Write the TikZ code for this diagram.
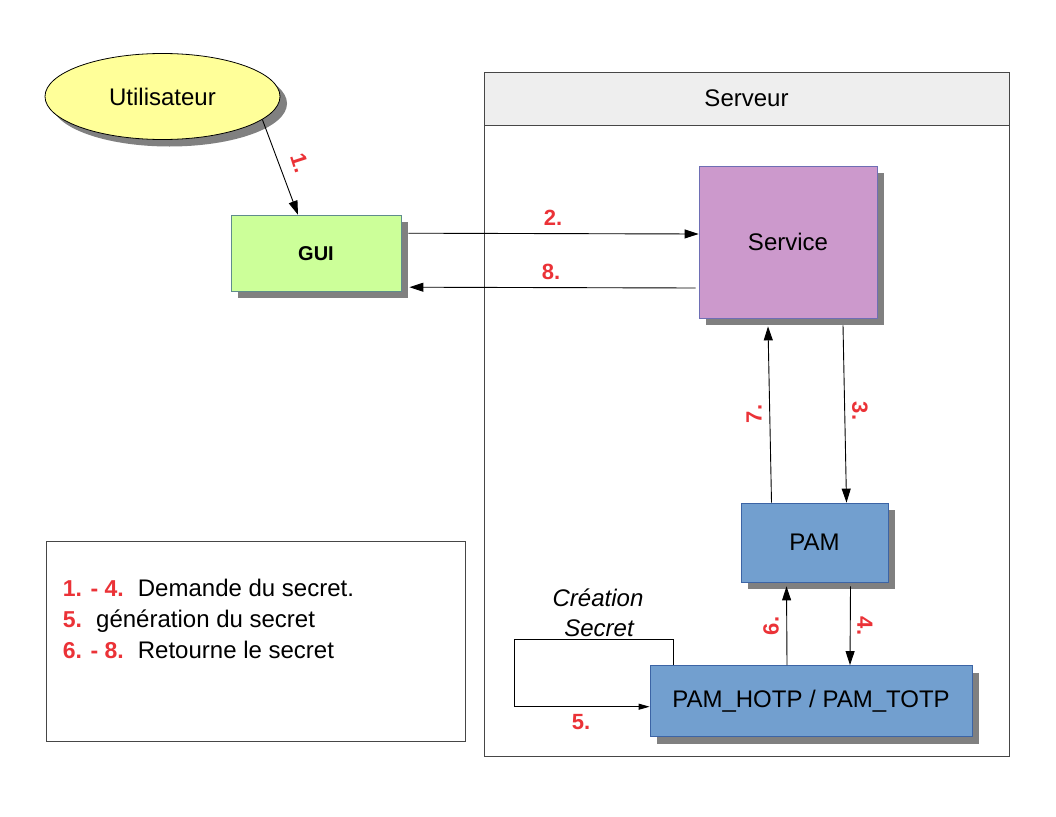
\documentclass[tikz,border=0pt]{standalone}
\usepackage{fontspec}
\setmainfont{Liberation Sans}
\usetikzlibrary{shapes.geometric,shadows,arrows.meta,calc}
\definecolor{redlab}{RGB}{235,50,55}
\definecolor{shadowgray}{RGB}{128,128,128}
\definecolor{guifill}{RGB}{204,255,153}
\definecolor{guiline}{RGB}{95,140,140}
\definecolor{servfill}{RGB}{204,153,204}
\definecolor{servline}{RGB}{110,110,180}
\definecolor{pamfill}{RGB}{114,159,207}
\definecolor{pamline}{RGB}{60,100,165}
\definecolor{userfill}{RGB}{255,255,153}
\definecolor{headfill}{RGB}{238,238,238}
\definecolor{frameline}{RGB}{70,70,70}
\begin{document}
\begin{tikzpicture}[x=1pt,y=-1pt,
  shadowed/.style={drop shadow={shadow xshift=7pt,shadow yshift=-7pt,fill=shadowgray,opacity=1}},
  box/.style={rectangle,draw,line width=0.8pt,inner sep=0pt,shadowed,font=\fontsize{24}{28}\selectfont},
  conn/.style={draw=black,line width=0.9pt,-{Triangle[length=14pt,width=9pt]}},
  connsmall/.style={draw=black,line width=0.9pt,-{Triangle[length=11pt,width=6pt]}},
  lab/.style={text=redlab,font=\bfseries\fontsize{22}{26}\selectfont,inner sep=0pt},
  legtxt/.style={font=\fontsize{24}{28}\selectfont,inner sep=0pt,anchor=base west},
  legnum/.style={text=redlab,font=\bfseries\fontsize{23}{27}\selectfont,inner sep=0pt,anchor=base west}]
\useasboundingbox (0,0) rectangle (1056,816);
\fill[white] (0,0) rectangle (1056,816);

% server frame
\node[draw=frameline,line width=0.8pt,rectangle,minimum width=525pt,minimum height=684pt,inner sep=0pt] (srv) at (746.5,414) {};
\node[draw=frameline,fill=headfill,line width=0.8pt,rectangle,minimum width=525pt,minimum height=53pt,inner sep=0pt,font=\fontsize{24}{28}\selectfont] (srvhead) at (746.5,98.5) {Serveur};

% legend
\node[draw=frameline,line width=0.8pt,rectangle,minimum width=419pt,minimum height=200pt,inner sep=0pt] (legend) at (255.5,641) {};
\node[legnum] (l1n) at (62.7,596) {1. - 4.};
\node[legtxt] (l1t) at (137.7,596) {Demande du secret.};
\node[legnum] (l2n) at (62.7,627) {5.};
\node[legtxt] (l2t) at (96,627) {génération du secret};
\node[legnum] (l3n) at (62.7,658) {6. - 8.};
\node[legtxt] (l3t) at (137.7,658) {Retourne le secret};

% nodes
\node[ellipse,draw=black,line width=0.8pt,fill=userfill,shadowed,minimum width=235pt,minimum height=86pt,inner sep=0pt,font=\fontsize{24}{28}\selectfont] (user) at (162.5,96.5) {Utilisateur};
\node[box,draw=guiline,fill=guifill,minimum width=170pt,minimum height=76pt,font=\bfseries\fontsize{20}{24}\selectfont] (gui) at (316,253.2) {GUI};
\node[box,draw=servline,fill=servfill,minimum width=178pt,minimum height=152pt] (service) at (788,242) {Service};
\node[box,draw=pamline,fill=pamfill,minimum width=147pt,minimum height=79pt] (pam) at (814.5,542.5) {PAM};
\node[box,draw=pamline,fill=pamfill,minimum width=322pt,minimum height=71pt] (hotp) at (811,701) {PAM\_HOTP / PAM\_TOTP};

% connectors
\draw[conn] (user.-13) -- ([xshift=-18pt]gui.north);
\draw[conn] ([xshift=7pt,yshift=20pt]gui.east) -- ([yshift=8pt]service.west);
\draw[conn] ([xshift=-3pt,yshift=-46pt]service.west) -- ([xshift=8pt,yshift=-34pt]gui.east);
\draw[conn] ([xshift=55pt,yshift=-7pt]service.south) -- ([xshift=32pt]pam.north);
\draw[conn] ([xshift=-43pt]pam.north) -- ([xshift=-20pt,yshift=-8pt]service.south);
\draw[conn] ([xshift=36pt,yshift=-4pt]pam.south) -- ([xshift=39pt]hotp.north);
\draw[conn] ([xshift=-24pt]hotp.north) -- ([xshift=-28pt,yshift=-4pt]pam.south);
\coordinate (loopL) at (514.3,639.3);
\draw[connsmall] ([xshift=-138pt]hotp.north) |- (loopL) |- ([yshift=-5.7pt]hotp.west);

% labels
\node[lab,rotate=-72] (n1) at (300,163) {1.};
\node[lab] (n2) at (553,218) {2.};
\node[lab] (n8) at (551,272) {8.};
\node[lab,rotate=-90] (n3) at (860,411) {3.};
\node[lab,rotate=90] (n7) at (754,414) {7.};
\node[lab,rotate=-90] (n4) at (865,626) {4.};
\node[lab,rotate=90] (n6) at (771,626) {6.};
\node[lab] (n5) at (581,722) {5.};
\node[font=\itshape\fontsize{24}{28}\selectfont,inner sep=0pt] (cre1) at (598,598) {Création};
\node[font=\itshape\fontsize{24}{28}\selectfont,inner sep=0pt] (cre2) at (599,628) {Secret};
\end{tikzpicture}
\end{document}
